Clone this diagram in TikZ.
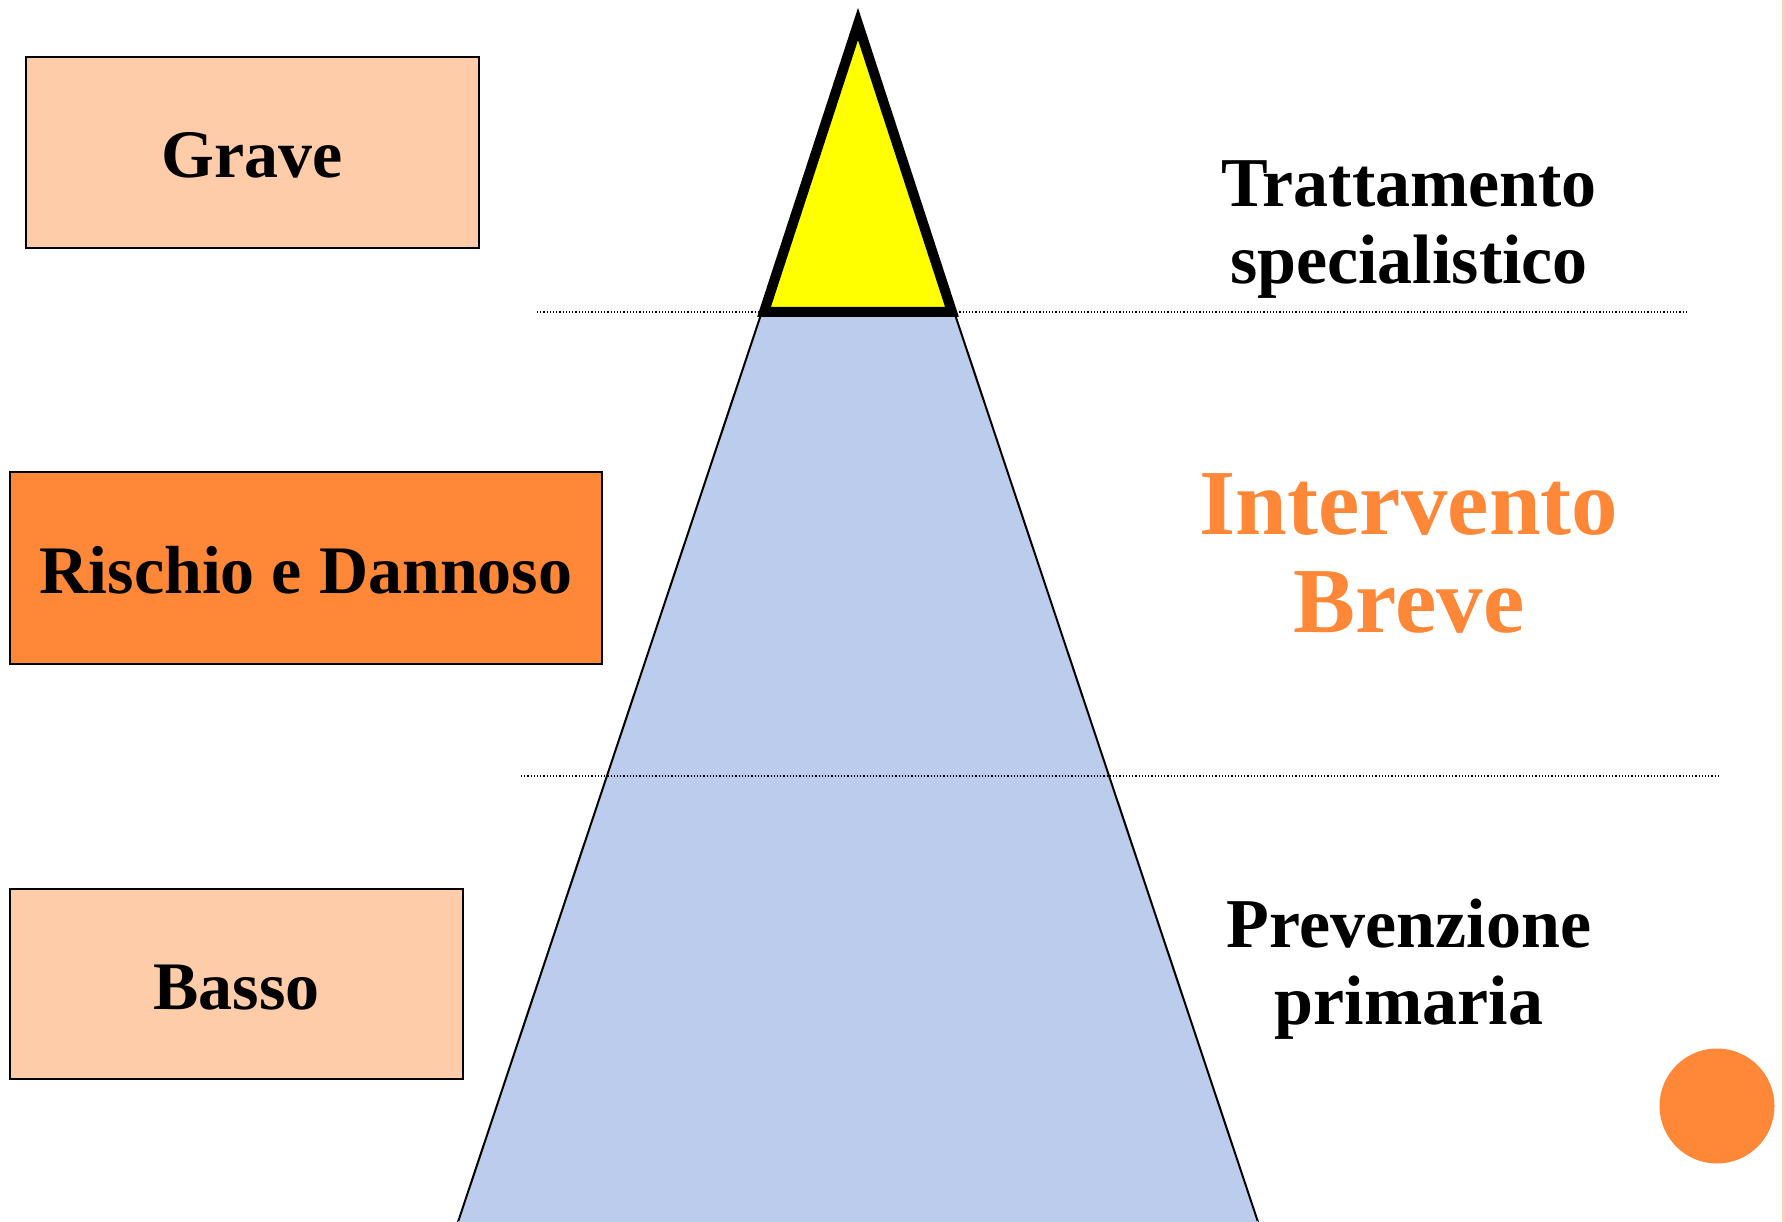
\documentclass[tikz,border=0pt]{standalone}
\usepackage{fontspec}
\setmainfont{Liberation Serif}
\definecolor{peach}{HTML}{FFCCAA}
\definecolor{orangeC}{HTML}{FF8838}
\definecolor{blueC}{HTML}{BBCCEC}
\definecolor{yellowC}{HTML}{FFFF00}
\definecolor{stripC}{HTML}{FFCDBD}
\tikzset{
  levelbox/.style={draw=black, line width=2pt, inner sep=0pt, text height=50pt, text depth=0pt, font=\bfseries\fontsize{68}{76}\selectfont},
  sidetext/.style={align=center, inner sep=0pt, font=\bfseries\fontsize{70}{77}\selectfont},
  bigtext/.style={align=center, inner sep=0pt, text=orangeC, font=\bfseries\fontsize{93}{98}\selectfont},
  sepline/.style={draw=black, line width=1.2pt, dotted}
}
\begin{document}
\begin{tikzpicture}[x=1pt,y=-1pt]
\useasboundingbox (0,0) rectangle (1785,1222);
\fill[white] (0,0) rectangle (1785,1222);
% right edge strip
\fill[stripC] (1782,0) rectangle (1785,1222);
% big blue triangle (clipped at the bottom)
\begin{scope}
\clip (0,0) rectangle (1785,1222);
\filldraw[fill=blueC, draw=black, line width=2pt] (858,24) -- (458,1222) -- (458,1260) -- (1258,1260) -- (1258,1222) -- cycle;
\fill[blueC] (458,1221) rectangle (1258,1262);
\end{scope}
% dotted separator lines
\draw[sepline] (537,312) -- (1688,312);
\draw[sepline] (521,776) -- (1720,776);
% yellow triangle
\filldraw[fill=yellowC, draw=black, line width=10pt, line join=miter] (858,24) -- (952,312) -- (764,312) -- cycle;
% level boxes
\node[levelbox, fill=peach, minimum width=453pt, minimum height=191pt] (grave) at (252.5,152.5) {Grave};
\node[levelbox, fill=orangeC, minimum width=592pt, minimum height=192pt] (rischio) at (306,568) {Rischio e Dannoso};
\node[levelbox, fill=peach, minimum width=453pt, minimum height=190pt] (basso) at (236.5,984) {Basso};
% right side texts
\node[sidetext] (tratt) at (1409,230) {Trattamento\\specialistico};
\node[bigtext] (interv) at (1409,554) {Intervento\\Breve};
\node[sidetext] (prev) at (1409,969) {Prevenzione\\primaria};
% orange circle
\fill[orangeC] (1717,1106) circle (57.5);
\end{tikzpicture}
\end{document}
